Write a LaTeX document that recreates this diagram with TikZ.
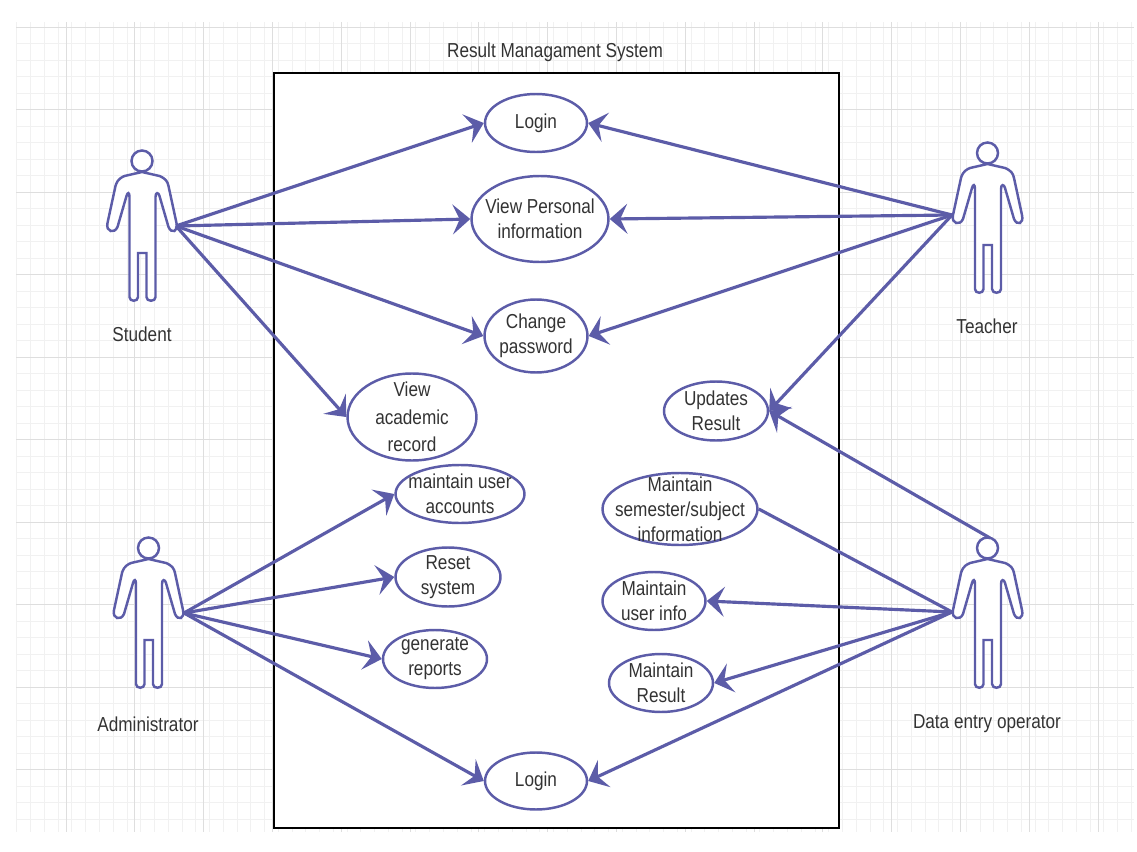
\documentclass[tikz,border=0pt]{standalone}
\usepackage{fontspec}
\setmainfont[FakeStretch=0.85]{Liberation Sans}
\usepackage{xcolor}
\usetikzlibrary{shapes.geometric,arrows.meta}
\definecolor{umlblue}{HTML}{5C5CA8}
\definecolor{labelgray}{HTML}{333333}
\tikzset{
	usecase/.style = {ellipse,draw = umlblue,line width = 1.4pt,fill = white,inner sep = -10pt,align = center,text = labelgray,font = \fontsize{11.5}{14.2}\selectfont},
	assoc/.style = {umlblue,line width = 1.8pt},
	arrow/.style = {assoc,-{Stealth[length = 10pt,width = 17pt,inset = 4pt]}},
	caption/.style = {text = labelgray,font = \fontsize{11.5}{14}\selectfont},
	actor/.pic = {
		\draw [umlblue,line width = 1.4pt,fill = white]
			(0.5,11) -- (-17,15) .. controls (-24,18) and (-25,22) .. (-26,25) -- (-34,62) .. controls (-36,71) and (-27,73) .. (-24,66)
			-- (-15,35) .. controls (-14,31) and (-12,31) .. (-12,36) -- (-12,136) .. controls (-12,141) and (-3.5,141) .. (-3.5,136)
			-- (-3.5,92) -- (5,92) -- (5,136) .. controls (5,141) and (14,141) .. (14,136) -- (14,36)
			.. controls (14,31) and (17,31) .. (18,35) -- (27,66) .. controls (30,73) and (37,71) .. (35,62)
			-- (27,25) .. controls (26,21) and (25,18) .. (18,15) -- cycle;
		\draw [umlblue,line width = 1.4pt,fill = white] (0.5,0) circle (10.5);
	}
}
\begin{document}
\begin{tikzpicture}[x = 0.02cm,y = -0.02cm]
	\useasboundingbox (0,0) rectangle (1137,852);
	% grid paper
	\foreach \gx in {16.8,30.56,...,1134} {\draw [gray!11,line width = 0.4pt] (\gx,22) -- (\gx,832);}
	\foreach \gy in {27,43.5,...,832} {\draw [gray!11,line width = 0.4pt] (16,\gy) -- (1134,\gy);}
	\foreach \gx in {66,134.8,...,1134} {\draw [gray!26,line width = 0.4pt] (\gx,22) -- (\gx,832);}
	\foreach \gy in {27,109.5,...,832} {\draw [gray!26,line width = 0.4pt] (16,\gy) -- (1134,\gy);}
	% system boundary
	\filldraw [fill = white,draw = black,line width = 1.7pt] (274,73) rectangle (839,828);
	\node [caption] (title) at (555,52) {Result Managament System};
	% use cases
	\node [usecase,minimum width = 2.04cm,minimum height = 1.16cm] (loginTop) at (536,123) {Login};
	\node [usecase,minimum width = 2.74cm,minimum height = 1.72cm] (viewInfo) at (540,219) {View Personal\\information};
	\node [usecase,minimum width = 2.06cm,minimum height = 1.46cm] (changePass) at (536,336) {Change\\password};
	\node [usecase,minimum width = 2.58cm,minimum height = 1.74cm,font = \fontsize{11.5}{15.6}\selectfont] (viewRecord) at (412,417) {View\\academic\\record};
	\node [usecase,minimum width = 2.58cm,minimum height = 1.16cm] (maintainAcc) at (460,494) {maintain user\\accounts};
	\node [usecase,minimum width = 2.10cm,minimum height = 1.18cm] (resetSys) at (448,577) {Reset\\system};
	\node [usecase,minimum width = 2.08cm,minimum height = 1.16cm] (genReports) at (435,659) {generate\\reports};
	\node [usecase,minimum width = 2.08cm,minimum height = 1.18cm] (updates) at (716,411) {Updates\\Result};
	\node [usecase,minimum width = 3.10cm,minimum height = 1.44cm] (maintainSem) at (680,509) {Maintain\\semester/subject\\information};
	\node [usecase,minimum width = 2.06cm,minimum height = 1.16cm] (maintainUser) at (654,601) {Maintain\\user info};
	\node [usecase,minimum width = 2.08cm,minimum height = 1.16cm] (maintainRes) at (661,683) {Maintain\\Result};
	\node [usecase,minimum width = 2.04cm,minimum height = 1.14cm] (loginBot) at (536,781) {Login};
	% actors
	\pic at (141.5,161) {actor};
	\pic at (987,153) {actor};
	\pic at (148,548) {actor};
	\pic at (987,548) {actor};
	\node [caption] (student) at (142,334) {Student};
	\node [caption] (teacher) at (987,326) {Teacher};
	\node [caption] (admin) at (148,724) {Administrator};
	\node [caption] (dataEntry) at (987,724) {Data entry operator};
	\coordinate (studentHand) at (176,226);
	\coordinate (teacherHand) at (952,215);
	\coordinate (adminHand) at (184,613);
	\coordinate (dataHand) at (952,612);
	\coordinate (dataHead) at (990,538);
	% associations
	\draw [arrow] (studentHand) -- (loginTop.west);
	\draw [arrow] (studentHand) -- (viewInfo.west);
	\draw [arrow] (studentHand) -- (changePass.west);
	\draw [arrow] (studentHand) -- (viewRecord.west);
	\draw [arrow] (teacherHand) -- (loginTop.east);
	\draw [arrow] (teacherHand) -- (viewInfo.east);
	\draw [arrow] (teacherHand) -- (changePass.east);
	\draw [arrow] (teacherHand) -- (updates.east);
	\draw [arrow] (dataHead) -- (updates.east);
	\draw [assoc] (dataHand) -- (maintainSem.east);
	\draw [arrow] (dataHand) -- (maintainUser.east);
	\draw [arrow] (dataHand) -- (maintainRes.east);
	\draw [arrow] (dataHand) -- (loginBot.east);
	\draw [arrow] (adminHand) -- (maintainAcc.west);
	\draw [arrow] (adminHand) -- (resetSys.west);
	\draw [arrow] (adminHand) -- (genReports.west);
	\draw [arrow] (adminHand) -- (loginBot.west);
\end{tikzpicture}
\end{document}
